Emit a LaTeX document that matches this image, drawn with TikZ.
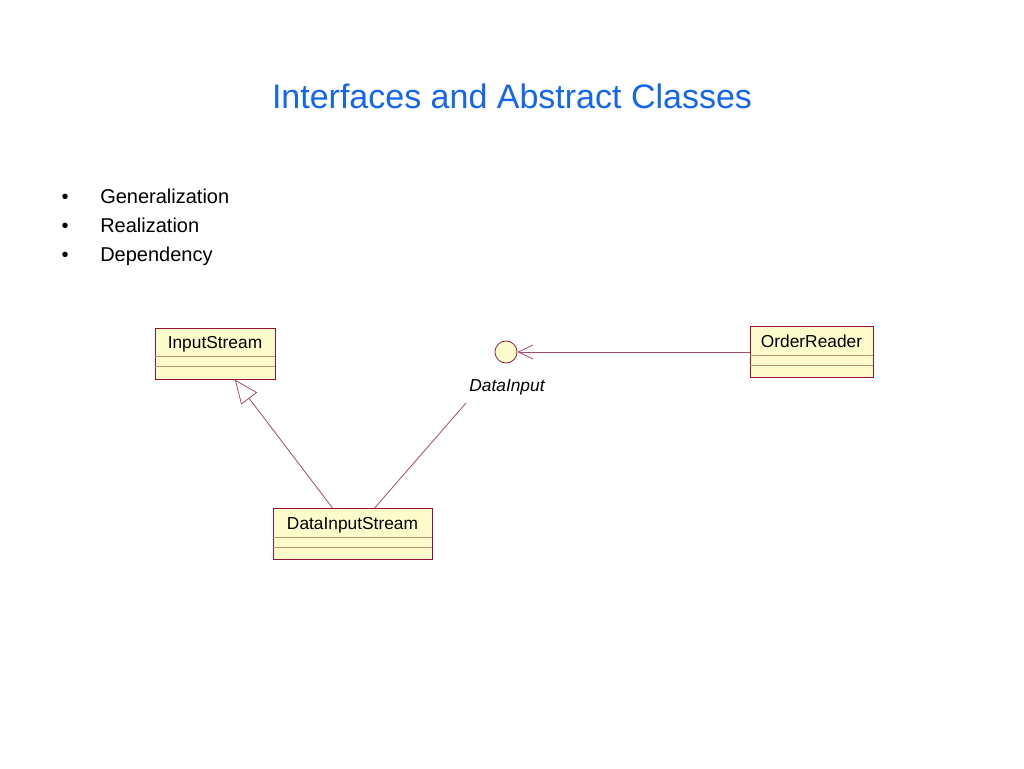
\documentclass[tikz,border=0pt]{standalone}
\usepackage{fontspec}
\setmainfont{Liberation Sans}
\usepackage{tikz}
\usetikzlibrary{calc,positioning,arrows.meta}

\definecolor{boxfill}{HTML}{FFFCCC}
\definecolor{boxline}{HTML}{99103A}
\definecolor{divline}{HTML}{C0907A}
\definecolor{linkcol}{HTML}{A8486E}
\definecolor{titleblue}{HTML}{1466EE}

\tikzset{
  classbox/.style={draw=boxline, fill=boxfill, line width=0.65pt, inner sep=0pt, minimum height=38.25pt},
  classname/.style={font=\fontsize{13}{15}\selectfont, inner sep=0pt},
  divider/.style={draw=divline, line width=0.55pt},
  iface/.style={circle, draw=boxline, fill=boxfill, line width=0.55pt, minimum size=16.5pt, inner sep=0pt},
  link/.style={draw=linkcol, line width=0.6pt},
}

\begin{document}
\begin{tikzpicture}[x=0.75pt, y=-0.75pt]
        \useasboundingbox (0,0) rectangle (1024,768);
        \node[text=titleblue, font=\fontsize{25.5}{30}\selectfont] (title) at (512,96) {Interfaces and Abstract Classes};
        % bullet list
        \foreach \y/\txt in {203/Generalization, 232/Realization, 261/Dependency}
        {
        \node[font=\fontsize{15}{18}\selectfont, anchor=base west, inner sep=0pt] (item\y) at (100,\y) {\txt};
        \node[font=\fontsize{15}{18}\selectfont, anchor=base, inner sep=0pt] (dot\y) at (65,\y) {\textbullet};
        }
        % classes
        \foreach \nm/\txt/\x/\y/\w/\t in {ins/InputStream/215/353.5/120/17, dis/DataInputStream/352.5/534/159/17, ord/OrderReader/811.5/352/123/15}
        {
        \node[classbox, minimum width=\w*0.75pt] (\nm) at (\x,\y) {};
        \node[classname] (\nm-name) at ($(\nm.north)+(0,\t)$) {\txt};
        \draw[divider] ($(\nm.north west)+(0,29)$) -- ($(\nm.north east)+(0,29)$);
        \draw[divider] ($(\nm.north west)+(0,39)$) -- ($(\nm.north east)+(0,39)$);
        }
        % interface
        \node[iface] (din) at (506,352) {};
        \node[classname, font=\fontsize{13}{15}\selectfont\itshape] (din-name) at (507,387) {DataInput};
        \coordinate (realend) at (466,403);
        % connectors
        \draw[link, -{Triangle[open, length=18pt, width=15pt]}] ($(dis.north west)+(60,0)$) -- (ins);
        \draw[link] ($(dis.north west)+(102,0)$) -- (realend);
        \draw[link, -{Straight Barb[length=11pt, width=10.5pt]}] (ord.west) -- (din);
\end{tikzpicture}
\end{document}
